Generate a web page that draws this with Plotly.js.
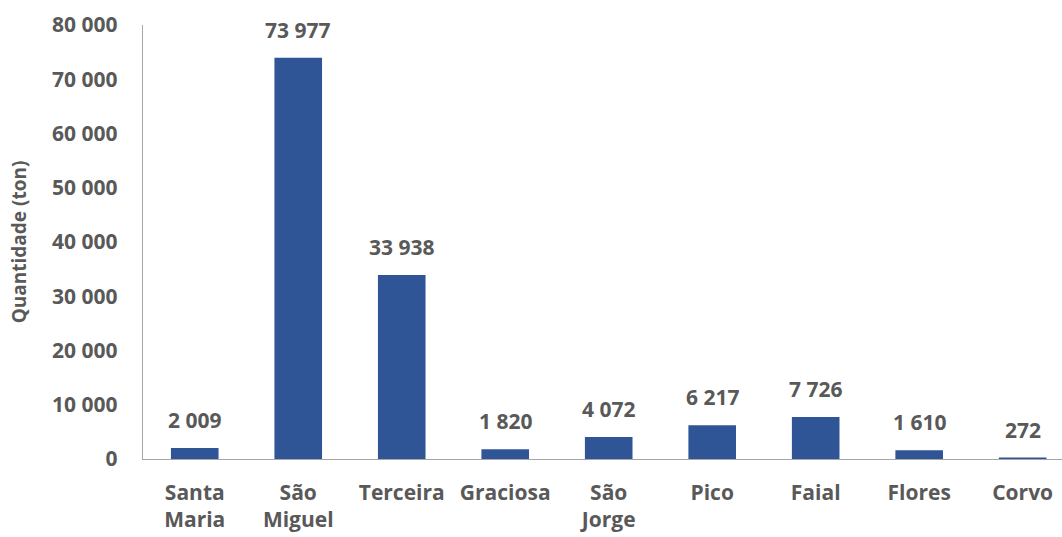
<!DOCTYPE html>
<html><head><meta charset="utf-8">
<script src="https://cdn.plot.ly/plotly-3.0.1.min.js"></script>
<style>html,body{margin:0;padding:0;background:#fff}#chart{width:1062px;height:537px}</style>
</head><body><div id="chart"></div>
<script>
const categories = ["Santa<br>Maria","São<br>Miguel","Terceira","Graciosa","São<br>Jorge","Pico","Faial","Flores","Corvo"];
const values = [2009, 73977, 33938, 1820, 4072, 6217, 7726, 1610, 272];
const yTickVals = [0,10000,20000,30000,40000,50000,60000,70000,80000];

function fmt(v){return String(v).replace(/\B(?=(\d{3})+(?!\d))/g, " ");}
const grey = "#595959";
const fontFam = "Open Sans, sans-serif";
const xs = categories.map((c,i)=>i);

const trace = {
  type: "bar", x: xs, y: values,
  marker: {color: "#2F5597"},
  hoverinfo: "none"
};
const annotations = values.map((v,i)=>({
  x: i, y: v, xref: "x", yref: "y", text: fmt(v), showarrow: false,
  yanchor: "bottom", yshift: 12,
  font: {family: fontFam, size: 21, color: grey, weight: "bold"}
}));
const layout = {
  width: 1062, height: 537,
  margin: {l: 143, r: 0, t: 25, b: 78},
  paper_bgcolor: "#fff", plot_bgcolor: "#fff",
  showlegend: false,
  bargap: 0.54,
  font: {family: fontFam, color: grey, size: 21, weight: "bold"},
  xaxis: {
    tickvals: xs, ticktext: categories, range: [-0.5, 8.38],
    showline: true, linecolor: "#a6a6a6", linewidth: 1.3,
    ticks: "", showgrid: false, zeroline: false, ticklabelstandoff: 14,
    tickfont: {family: fontFam, size: 21, color: grey, weight: "bold"},
    automargin: false
  },
  yaxis: {
    range: [0, 80000], tickvals: yTickVals, ticktext: yTickVals.map(fmt),
    showline: true, linecolor: "#a6a6a6", linewidth: 1.3,
    ticks: "", showgrid: false, zeroline: false, ticklabelstandoff: 20,
    tickfont: {family: fontFam, size: 21, color: grey, weight: "bold"},
    title: {text: "Quantidade (ton)", standoff: 20, font: {family: fontFam, size: 19, color: grey, weight: "bold"}},
    automargin: false
  },
  annotations: annotations
};
Plotly.newPlot("chart", [trace], layout, {displayModeBar: false, staticPlot: true});
</script></body></html>
